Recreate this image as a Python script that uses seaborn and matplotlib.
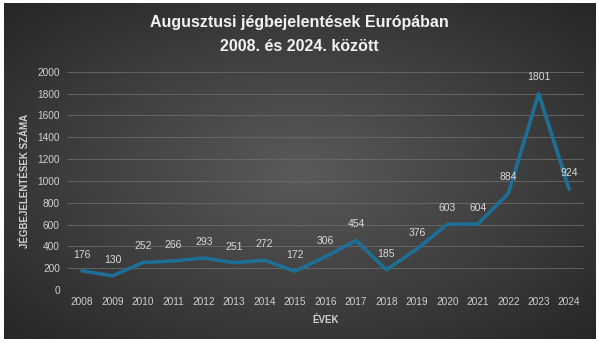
import numpy as np
import pandas as pd
import matplotlib
matplotlib.use("Agg")
import matplotlib.pyplot as plt
import seaborn as sns

years = [2008, 2009, 2010, 2011, 2012, 2013, 2014, 2015, 2016, 2017, 2018, 2019, 2020, 2021, 2022, 2023, 2024]
reports = [176, 130, 252, 266, 293, 251, 272, 172, 306, 454, 185, 376, 603, 604, 884, 1801, 924]
yticks = [0, 200, 400, 600, 800, 1000, 1200, 1400, 1600, 1800, 2000]

df = pd.DataFrame({"year": [str(y) for y in years], "pos": range(len(years)), "value": reports})

sns.set_theme(style="dark")
plt.rcParams["font.family"] = ["Liberation Sans", "DejaVu Sans"]

fig = plt.figure(figsize=(5.99, 3.43), dpi=100)
fig.patch.set_facecolor("white")

# gradient background
bg = fig.add_axes([0.006, 0.012, 0.988, 0.978])
h, w = 200, 350
yy, xx = np.mgrid[0:h, 0:w]
cx, cy = w * 0.5, h * 0.5
r = np.sqrt(((xx - cx) / (w * 0.5)) ** 2 + ((yy - cy) / (h * 0.5)) ** 2) / np.sqrt(2)
inner = np.array([0x5a, 0x5a, 0x5a]) / 255
outer = np.array([0x26, 0x26, 0x26]) / 255
img = inner[None, None, :] * (1 - r[..., None]) + outer[None, None, :] * r[..., None]
bg.imshow(np.clip(img, 0, 1), aspect="auto", extent=[0, 1, 0, 1])
bg.set_axis_off()

ax = fig.add_axes([0.1115, 0.1545, 0.864, 0.636])
ax.set_facecolor("none")
sns.lineplot(data=df, x="pos", y="value", ax=ax, color="#1e6f96", linewidth=2.6)

for p, v in zip(df["pos"], df["value"]):
    ax.annotate(str(v), (p, v), xytext=(0, 8), textcoords="offset points",
                ha="center", va="bottom", color="#d9d9d9", fontsize=7.5)

ax.set_xlim(-0.5, len(years) - 0.5)
ax.set_ylim(0, 2000)
ax.set_yticks(yticks)
ax.set_xticks(list(df["pos"]))
ax.set_xticklabels(df["year"])
ax.tick_params(axis="both", colors="#d0d0d0", labelsize=7.3, length=0, pad=5)
ax.grid(axis="y", color="#6a6a6a", linewidth=0.6)
ax.grid(axis="x", visible=False)
for s in ax.spines.values():
    s.set_visible(False)
ax.set_xlabel("ÉVEK", color="#d0d0d0", fontsize=7, fontweight="bold", labelpad=6)
ax.set_ylabel("JÉGBEJELENTÉSEK SZÁMA", color="#d0d0d0", fontsize=7, fontweight="bold", labelpad=5)

title_kw = dict(ha="center", va="center", color="#f2f2f2", fontsize=11.5, fontweight="bold")
fig.text(0.5, 0.935, "Augusztusi jégbejelentések Európában", **title_kw)
fig.text(0.5, 0.865, "2008. és 2024. között", **title_kw)

fig.savefig("out.png", dpi=100)
